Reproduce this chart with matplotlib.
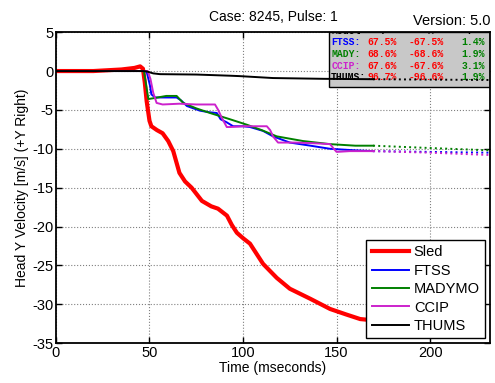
import matplotlib
matplotlib.use("Agg")
import matplotlib.pyplot as plt
from matplotlib.patches import Rectangle

plt.rcParams['font.family'] = ['Liberation Sans', 'DejaVu Sans']
plt.rcParams['axes.unicode_minus'] = False

# Sled pulse
sled_t = [0, 20, 35, 42, 45, 46.5, 47.5, 48.5, 50, 51, 54, 57, 60, 62.7, 66, 69, 72.5, 78, 83,
          86.6, 91.4, 94, 96.7, 100, 103.7, 110.7, 118, 125, 136, 146.5, 155, 162.6, 167]
sled_v = [0, 0, 0.2, 0.4, 0.6, 0.3, -1.5, -3.9, -6.4, -7.1, -7.6, -8.0, -9.0, -10.3, -13.1, -14.2,
          -15.0, -16.7, -17.4, -17.7, -18.6, -19.8, -20.8, -21.5, -22.2, -24.8, -26.6, -28.0,
          -29.3, -30.6, -31.3, -31.9, -32.0]

# models (solid part)
ftss_t = [0, 47, 48.5, 50.3, 51, 53, 57, 64.5, 67, 70, 77, 82, 86, 88, 91.3, 94.7, 100, 103.7,
          110.7, 116, 125, 136, 146.5, 160, 169.5]
ftss_v = [0, 0, -0.1, -1.9, -3.0, -3.4, -3.4, -3.4, -3.8, -4.5, -5.1, -5.3, -5.4, -6.2, -6.6,
          -7.1, -7.1, -7.2, -7.7, -8.4, -9.2, -9.6, -10.0, -10.2, -10.3]
mady_t = [0, 47, 48, 49.4, 52, 59, 64.5, 68, 75, 82.4, 93, 102, 110, 118, 132, 146.5, 160, 169.5]
mady_v = [0, 0, -1.5, -3.6, -3.5, -3.2, -3.2, -4.1, -4.8, -5.4, -6.2, -6.9, -7.6, -8.4, -9.0,
          -9.4, -9.6, -9.6]
ccip_t = [0, 49, 50.5, 52, 53.8, 57, 66, 75, 85, 86.7, 88.6, 91.3, 93, 100, 112.7, 114.5, 116,
          118.7, 128.7, 139, 146.5, 148.5, 150, 157, 169.5]
ccip_v = [0, 0, -1.0, -2.8, -4.1, -4.3, -4.2, -4.3, -4.3, -5.0, -6.0, -7.2, -7.2, -7.1, -7.1,
          -7.6, -8.4, -9.2, -9.2, -9.3, -9.4, -10.0, -10.4, -10.3, -10.3]
thums_t = [0, 47, 48.5, 52, 55.6, 75, 93, 98, 116, 143, 169.5]
thums_v = [0, 0, -0.05, -0.3, -0.4, -0.45, -0.6, -0.65, -0.9, -1.0, -1.05]

# dotted continuation
ext_t = [169.5, 200, 232]
ftss_ext = [-10.3, -10.4, -10.5]
mady_ext = [-9.6, -9.9, -10.2]
ccip_ext = [-10.3, -10.5, -10.8]
thums_ext = [-1.05, -1.1, -1.15]

models = ["FTSS", "MADYMO", "CCIP", "THUMS"]
colors = ["#0000ff", "#008000", "#cc22cc", "#000000"]

# score table
tab_names = ["FTSS:", "MADY:", "CCIP:", "THUMS:"]
tab_T = ["67.5%", "68.6%", "67.6%", "96.7%"]
tab_M = ["-67.5%", "-68.6%", "-67.6%", "-96.6%"]
tab_F = ["1.4%", "1.9%", "3.1%", "1.9%"]

fig = plt.figure(figsize=(4.95, 3.83), dpi=100)
ax = fig.add_axes([0.113, 0.104, 0.877, 0.812])

ax.plot(sled_t, sled_v, color="#ff0000", lw=3.0, label="Sled")
sols = [(ftss_t, ftss_v), (mady_t, mady_v), (ccip_t, ccip_v), (thums_t, thums_v)]
exts = [ftss_ext, mady_ext, ccip_ext, thums_ext]
for (t, v), e, name, c in zip(sols, exts, models, colors):
    ax.plot(t, v, color=c, lw=1.4, label=name)
    ax.plot(ext_t, e, color=c, lw=1.4, ls=":")

ax.set_xlim(0, 232)
ax.set_ylim(-35, 5)
ax.set_xticks([0, 50, 100, 150, 200])
ax.set_yticks(range(-35, 6, 5))
ax.grid(True, ls=":", color="#808080", lw=0.8)
ax.tick_params(direction="in", top=True, right=True, labelsize=10.5, length=4, width=1, pad=2)
for s in ax.spines.values():
    s.set_linewidth(1.3)

ax.set_xlabel("Time (mseconds)", fontsize=10, labelpad=1)
ax.set_ylabel("Head Y Velocity [m/s] (+Y Right)", fontsize=10, labelpad=2)
ax.set_title("Case: 8245, Pulse: 1", fontsize=10, pad=8)
fig.text(0.99, 0.928, "Version: 5.0", fontsize=10.5, ha="right", va="bottom")

# table box
ax.add_patch(Rectangle((0.629, 0.824), 0.371, 0.176, transform=ax.transAxes,
                       facecolor="#c8c8c8", edgecolor="black", lw=1.0, zorder=1.6))
mono = dict(family="Liberation Mono", weight="bold", fontsize=7,
            transform=ax.transAxes, va="center", zorder=1.7, clip_on=True)
ax.text(0.634, 1.003, "Model", ha="left", color="black", **mono)
ax.text(0.752, 1.003, "T", ha="center", color="black", **mono)
ax.text(0.862, 1.003, "M", ha="center", color="black", **mono)
ax.text(0.955, 1.003, "F", ha="center", color="black", **mono)
rows_y = [0.968, 0.929, 0.891, 0.855]
for i, y in enumerate(rows_y):
    ax.text(0.634, y, tab_names[i], ha="left", color=colors[i], **mono)
    ax.text(0.752, y, tab_T[i], ha="center", color="#ff0000", **mono)
    ax.text(0.852, y, tab_M[i], ha="center", color="#ff0000", **mono)
    ax.text(0.988, y, tab_F[i], ha="right", color="#008000", **mono)

leg = ax.legend(loc="lower right", fontsize=10.5, fancybox=False, framealpha=1,
                edgecolor="black", borderpad=0.35, labelspacing=0.3, handlelength=2.6,
                handletextpad=0.3, borderaxespad=0.35)
leg.get_frame().set_linewidth(1.0)

fig.savefig("out.png", dpi=100)
